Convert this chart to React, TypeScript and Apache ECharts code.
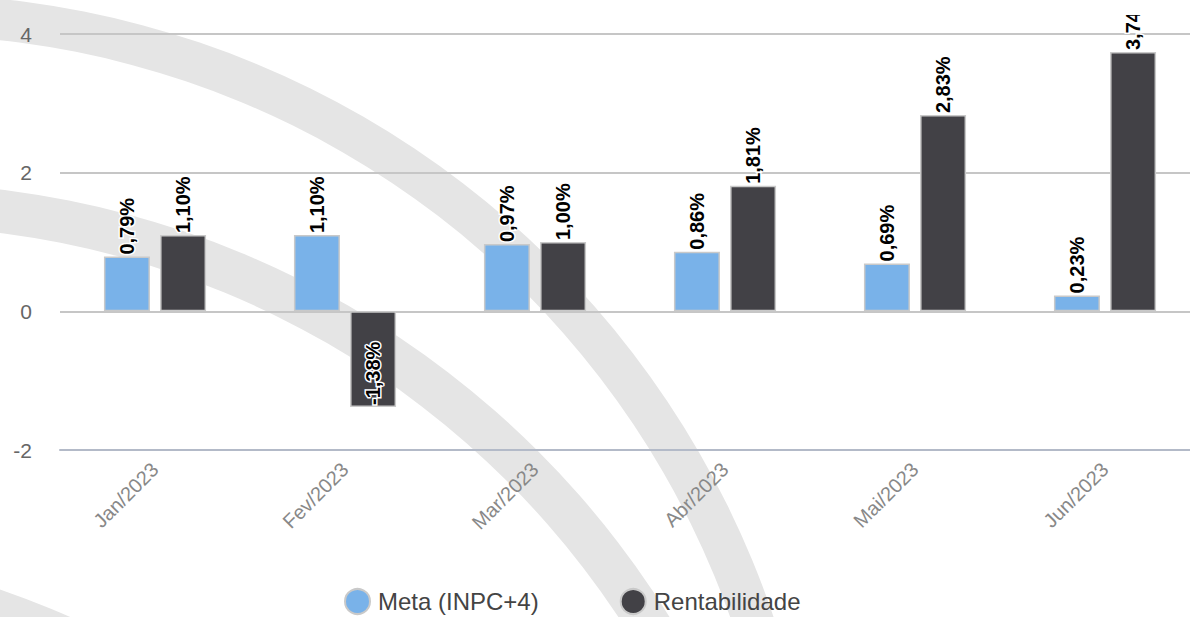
import React, { useEffect, useRef } from "react";
import * as echarts from "echarts";

const categories = ["Jan/2023", "Fev/2023", "Mar/2023", "Abr/2023", "Mai/2023", "Jun/2023"];
const metaValues = [0.79, 1.1, 0.97, 0.86, 0.69, 0.23];
const rentValues = [1.1, -1.38, 1.0, 1.81, 2.83, 3.74];
const yTicks = { min: -2, max: 4, interval: 2 };
const seriesNames = ["Meta (INPC+4)", "Rentabilidade"];
const colors = ["#79b2e9", "#424146"];

const FONT = "'Liberation Sans', Arial, sans-serif";

const fmt = (v: number) => v.toFixed(2).replace(".", ",") + "%";

const labelBase = {
  show: true,
  rotate: 90,
  align: "left",
  verticalAlign: "middle",
  fontFamily: FONT,
  fontWeight: "bold",
  fontSize: 20,
  color: "#000",
  textBorderColor: "#fff",
  textBorderWidth: 3,
  formatter: (p: any) => fmt(p.value),
};

function makeData(values: number[]) {
  return values.map((v) =>
    v < 0
      ? { value: v, label: { position: "insideBottom", distance: 2 } }
      : { value: v }
  );
}

export default function App() {
  const ref = useRef<HTMLDivElement>(null);
  useEffect(() => {
    if (!ref.current) return;
    const chart = echarts.init(ref.current, undefined, { renderer: "svg" });
    const arcColor = "#e5e5e5";
    chart.setOption({
      animation: false,
      backgroundColor: "#fff",
      graphic: [
        { type: "ring", z: -10, silent: true, shape: { cx: -95, cy: 911, r: 917, r0: 876 }, style: { fill: arcColor } },
        { type: "ring", z: -10, silent: true, shape: { cx: -110, cy: 1100, r: 917, r0: 874 }, style: { fill: arcColor } },
        { type: "ring", z: -10, silent: true, shape: { cx: -300, cy: 1456, r: 917, r0: 876 }, style: { fill: arcColor } },
        { type: "rect", z: 100, silent: true, shape: { x: 1000, y: 0, width: 200, height: 15 }, style: { fill: "#fff" } },
      ],
      grid: { left: 60, right: 0, top: 34, bottom: 167, containLabel: false },
      legend: {
        left: 339,
        top: 583,
        icon: "circle",
        itemWidth: 31,
        itemHeight: 25,
        itemGap: 81,
        textStyle: { fontFamily: FONT, fontSize: 24, color: "#444" },
        data: seriesNames,
      },
      xAxis: {
        type: "category",
        data: categories,
        axisLine: { onZero: false, lineStyle: { color: "#b3bac8", width: 2 } },
        axisTick: { show: false },
        axisLabel: { rotate: 45, fontFamily: FONT, fontSize: 20, color: "#888", margin: 16 },
      },
      yAxis: {
        type: "value",
        min: yTicks.min,
        max: yTicks.max,
        interval: yTicks.interval,
        axisLine: { show: false },
        axisTick: { show: false },
        axisLabel: { fontFamily: FONT, fontSize: 21, color: "#666", margin: 28 },
        splitLine: { lineStyle: { color: "#c6c6c6", width: 2 } },
      },
      series: [
        {
          name: seriesNames[0],
          type: "bar",
          data: makeData(metaValues),
          barWidth: 46,
          barGap: "22%",
          itemStyle: { color: colors[0], borderColor: "#c9c9c9", borderWidth: 1.5 },
          label: { ...labelBase, position: "top", distance: 2 },
        },
        {
          name: seriesNames[1],
          type: "bar",
          data: makeData(rentValues),
          barWidth: 46,
          barGap: "22%",
          itemStyle: { color: colors[1], borderColor: "#c9c9c9", borderWidth: 1.5 },
          label: { ...labelBase, position: "top", distance: 2 },
        },
      ],
    });
    return () => chart.dispose();
  }, []);
  return (
    <div style={{ position: "fixed", left: 0, top: 0, width: 1190, height: 617, overflow: "hidden" }}>
      <div ref={ref} style={{ position: "absolute", left: 0, top: 0, width: 1200, height: 617 }} />
    </div>
  );
}
